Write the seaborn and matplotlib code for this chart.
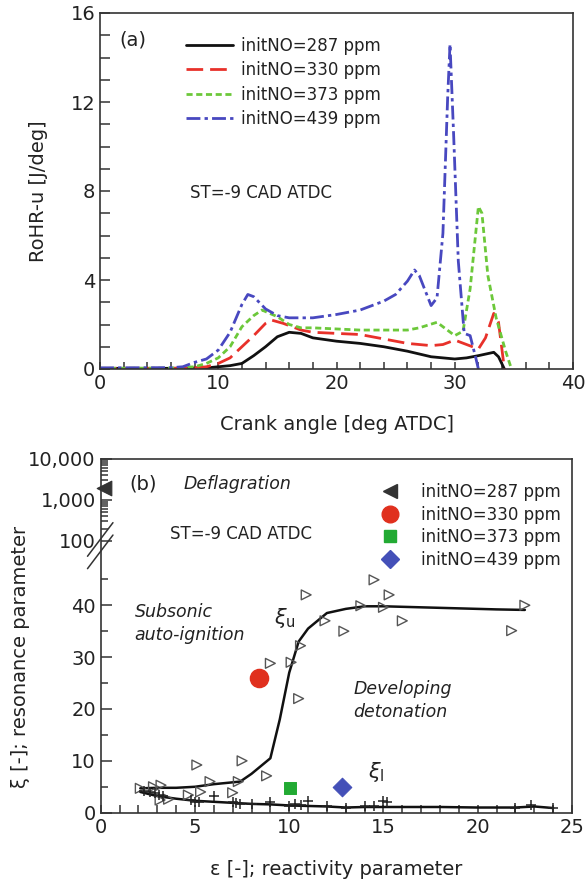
import numpy as np
import pandas as pd
import matplotlib
matplotlib.use("Agg")
import matplotlib.pyplot as plt
from matplotlib.lines import Line2D
import seaborn as sns

# ---------------- data: panel (a) ----------------
x287 = [0, 6, 9, 10, 11, 12, 13, 14, 15, 16, 17, 18, 20, 22, 24, 26, 28, 30, 31, 32, 33.3, 33.7, 34.2]
y287 = [0.03, 0.03, 0.05, 0.1, 0.15, 0.25, 0.6, 1.0, 1.45, 1.65, 1.6, 1.4, 1.25, 1.15, 1.0, 0.8, 0.55, 0.45, 0.5, 0.6, 0.75, 0.55, 0.0]

x330 = [0, 6, 8, 9, 10, 11, 12, 13, 14, 14.5, 15.5, 16, 17, 18, 20, 22, 24, 26, 28, 29, 30, 31, 32, 32.6, 33.3, 33.7, 34.2]
y330 = [0.03, 0.03, 0.05, 0.1, 0.25, 0.5, 1.0, 1.5, 2.05, 2.2, 2.05, 1.95, 1.75, 1.65, 1.6, 1.55, 1.35, 1.15, 1.05, 1.1, 1.3, 1.1, 0.9, 1.4, 2.5, 2.1, 0.0]

x373 = [0, 6, 8, 9, 10, 11, 12, 13, 13.7, 15, 16, 17, 18, 20, 22, 24, 26, 27, 28.5, 29, 30, 30.7, 31.3, 32, 32.3, 32.8, 33.5, 34.3, 34.8]
y373 = [0.03, 0.04, 0.1, 0.25, 0.5, 1.0, 1.9, 2.4, 2.65, 2.35, 2.0, 1.85, 1.85, 1.8, 1.75, 1.75, 1.75, 1.85, 2.1, 1.9, 1.5, 1.7, 3.6, 7.3, 7.0, 4.2, 2.3, 0.8, 0.0]

x439 = [0, 6, 7, 8, 9, 10, 11, 12, 12.5, 13, 14, 15, 16, 18, 20, 22, 24, 25, 26, 26.6, 27, 28, 28.5, 29, 29.4, 29.6, 29.9, 30.3, 30.8, 31.3, 31.8, 32.0]
y439 = [0.05, 0.06, 0.1, 0.3, 0.45, 0.85, 1.65, 2.9, 3.35, 3.25, 2.7, 2.4, 2.3, 2.3, 2.45, 2.65, 3.05, 3.35, 3.95, 4.45, 4.2, 2.85, 3.2, 6.1, 12.2, 14.6, 10.6, 4.85, 1.6, 1.5, 0.45, 0.0]

labels_a = ["initNO=287 ppm", "initNO=330 ppm", "initNO=373 ppm", "initNO=439 ppm"]
colors_a = ["#111111", "#e8312a", "#6cc83a", "#4848c0"]

# ---------------- data: panel (b) ----------------
tri_eps = [2.1, 2.8, 3.2, 3.15, 3.6, 4.65, 5.1, 5.3, 5.8, 7.0, 7.3, 7.5, 8.8, 9.0, 10.1, 10.5, 10.6,
           10.9, 11.9, 12.9, 13.8, 14.5, 15.0, 15.3, 16.0, 21.8, 22.5]
tri_xi = [4.7, 5.0, 5.3, 2.45, 2.6, 3.4, 9.2, 4.0, 6.0, 3.85, 6.0, 10.0, 7.1, 28.8, 29.0, 22.0, 32.2,
          42.0, 37.0, 35.0, 39.9, 44.9, 39.6, 42.0, 37.0, 35.1, 40.0]
xiu_eps = [2.1, 3.0, 4.0, 5.0, 6.0, 7.4, 8.0, 9.0, 9.5, 10.0, 10.5, 11.0, 12.0, 13.0, 14.0, 15.0, 17.0, 19.0, 21.0, 22.5]
xiu_val = [4.7, 4.8, 4.8, 5.0, 5.5, 6.0, 7.5, 10.5, 18.0, 27.0, 33.0, 35.5, 38.5, 39.3, 39.8, 39.8, 39.6, 39.4, 39.2, 39.1]
xil_eps = [2.1, 3.0, 4.0, 5.0, 6.0, 7.0, 8.0, 9.0, 10.0, 11.0, 12.0, 13.0, 14.0, 15.0, 18.0, 20.0, 22.0, 23.0, 24.0]
xil_val = [4.0, 3.2, 2.7, 2.3, 2.1, 1.9, 1.7, 1.6, 1.4, 1.3, 1.2, 1.0, 1.1, 1.1, 1.1, 1.0, 1.0, 1.2, 0.9]
plus_eps = [2.3, 2.6, 2.9, 3.1, 3.3, 4.8, 5.0, 5.2, 6.0, 7.0, 7.2, 7.4, 8.0, 9.0, 10.0, 10.3, 10.6, 11.0,
            12.0, 13.0, 14.0, 14.5, 15.0, 15.2, 22.0, 22.8, 24.0]
plus_xi = [4.2, 4.0, 3.8, 3.5, 3.3, 2.4, 2.0, 2.1, 3.2, 2.0, 1.8, 1.6, 1.7, 2.0, 1.3, 1.7, 1.5, 2.2,
           1.2, 1.0, 1.2, 1.3, 2.2, 2.1, 1.0, 1.5, 1.0]
case_labels = ["initNO=287 ppm", "initNO=330 ppm", "initNO=373 ppm", "initNO=439 ppm"]
case_eps = [0.2, 8.42, 10.04, 12.8]
case_xi = [2000, 26.0, 4.7, 4.9]
case_markers = ["<", "o", "s", "D"]
case_colors = ["#333333", "#e0301e", "#22aa33", "#4450b8"]
case_sizes = [110, 170, 75, 90]

# ---------------- style ----------------
sns.set_style("ticks")
plt.rcParams["font.family"] = ["DejaVu Sans"]
plt.rcParams["axes.linewidth"] = 1.2
plt.rcParams["axes.edgecolor"] = "#333333"

W, H = 587, 889
fig = plt.figure(figsize=(W / 100, H / 100), dpi=100)

def rect(l, t, r, b):
    return [l / W, 1 - b / H, (r - l) / W, (b - t) / H]

# ================= panel (a) =================
ax1 = fig.add_axes(rect(100, 13, 573, 369))
dfs = []
for xs, ys, lab in zip([x287, x330, x373, x439], [y287, y330, y373, y439], labels_a):
    dfs.append(pd.DataFrame({"ca": xs, "rohr": ys, "case": lab}))
dfa = pd.concat(dfs, ignore_index=True)
sns.lineplot(data=dfa, x="ca", y="rohr", hue="case", style="case",
             palette=dict(zip(labels_a, colors_a)),
             dashes={labels_a[0]: "", labels_a[1]: (6, 2.5), labels_a[2]: (2.2, 1.3),
                     labels_a[3]: (5, 1.5, 1.2, 1.5)},
             sort=False, estimator=None, linewidth=2.0, ax=ax1, legend=True)
ax1.set_xlim(0, 40)
ax1.set_ylim(0, 16)
ax1.set_xticks([0, 10, 20, 30, 40])
ax1.set_xticks(np.arange(0, 41, 2), minor=True)
ax1.set_yticks([0, 4, 8, 12, 16])
ax1.set_yticks(np.arange(0, 17, 1), minor=True)
ax1.tick_params(axis="both", which="both", direction="in", labelsize=14, colors="#333333",
                labelcolor="#222222", width=1.1)
ax1.tick_params(axis="y", which="both", length=7)
ax1.tick_params(axis="x", which="both", length=5)
ax1.set_xlabel("Crank angle [deg ATDC]", fontsize=14, color="#222222")
ax1.set_ylabel("RoHR-u [J/deg]", fontsize=14, color="#222222")
ax1.xaxis.set_label_coords(0.5, -0.13)
ax1.yaxis.set_label_coords(-0.11, 0.5)
for s in ax1.spines.values():
    s.set_visible(True)
leg1 = ax1.legend(loc="upper left", bbox_to_anchor=(0.15, 0.975), frameon=False,
                  fontsize=12, handlelength=2.8, handletextpad=0.5, labelspacing=0.38)
for t in leg1.get_texts():
    t.set_color("#222222")
ax1.text(0.042, 0.924, "(a)", transform=ax1.transAxes, fontsize=14, color="#222222", va="center")
ax1.text(0.19, 0.494, "ST=-9 CAD ATDC", transform=ax1.transAxes, fontsize=12, color="#222222",
         va="center")

# ================= panel (b) =================
ax2 = fig.add_axes(rect(100.7, 459, 572, 812.7))

LIN_TOP, MID, DEC = 50.0, 2.4, 7.9

def fwd(y):
    y = np.asarray(y, dtype=float)
    with np.errstate(divide="ignore", invalid="ignore"):
        lg = LIN_TOP + MID + DEC * np.log10(np.maximum(y, 1e-12) / 100.0)
    mid = LIN_TOP + (y - LIN_TOP) / 50.0 * MID
    return np.where(y <= LIN_TOP, y, np.where(y <= 100, mid, lg))

def inv(z):
    z = np.asarray(z, dtype=float)
    with np.errstate(over="ignore"):
        lg = 100.0 * 10 ** ((z - LIN_TOP - MID) / DEC)
    mid = LIN_TOP + (z - LIN_TOP) / MID * 50.0
    return np.where(z <= LIN_TOP, z, np.where(z <= LIN_TOP + MID, mid, lg))

ax2.set_yscale("function", functions=(fwd, inv))

dfu = pd.DataFrame({"eps": xiu_eps, "xi": xiu_val})
dfl = pd.DataFrame({"eps": xil_eps, "xi": xil_val})
dft = pd.DataFrame({"eps": tri_eps, "xi": tri_xi})
dfp = pd.DataFrame({"eps": plus_eps, "xi": plus_xi})
sns.lineplot(data=dfu, x="eps", y="xi", color="#111111", linewidth=1.8, sort=False,
             estimator=None, ax=ax2, legend=False)
sns.lineplot(data=dfl, x="eps", y="xi", color="#111111", linewidth=1.8, sort=False,
             estimator=None, ax=ax2, legend=False)
sns.scatterplot(data=dft, x="eps", y="xi", marker=">", s=50, facecolor="none",
                edgecolor="#555555", linewidth=1.0, ax=ax2, legend=False, zorder=3)
sns.scatterplot(data=dfp, x="eps", y="xi", marker="+", s=60, color="#222222",
                linewidth=1.1, ax=ax2, legend=False, zorder=3)
for lab, ex, xv, mk, col, sz in zip(case_labels, case_eps, case_xi, case_markers, case_colors, case_sizes):
    sns.scatterplot(x=[ex], y=[xv], marker=mk, s=sz, color=col, edgecolor=col, ax=ax2,
                    legend=False, zorder=4, clip_on=False)

ax2.set_xlim(0, 25)
ax2.set_ylim(0, 10000)
ax2.set_xticks([0, 5, 10, 15, 20, 25])
ax2.set_xticks(np.arange(0, 26, 1), minor=True)
ax2.set_yticks([0, 10, 20, 30, 40, 100, 1000, 10000])
ax2.set_yticklabels(["0", "10", "20", "30", "40", "100", "1,000", "10,000"])
minor_y = [5, 15, 25, 35, 45] + [m * 100 for m in range(2, 10)] + [m * 1000 for m in range(2, 10)]
ax2.set_yticks(minor_y, minor=True)
ax2.tick_params(axis="both", which="both", direction="in", labelsize=14, colors="#333333",
                labelcolor="#222222", width=1.1)
ax2.tick_params(axis="y", which="major", length=8)
ax2.tick_params(axis="y", which="minor", length=5)
ax2.tick_params(axis="x", which="both", length=6)
ax2.set_xlabel("ε [-]; reactivity parameter", fontsize=14, color="#222222")
ax2.set_ylabel("ξ [-]; resonance parameter", fontsize=14, color="#222222")
ax2.xaxis.set_label_coords(0.5, -0.135)
ax2.yaxis.set_label_coords(-0.15, 0.44)

# axis break marks
for dy in (0.0, 0.035):
    ax2.plot([-0.028, 0.026], [0.69 + dy, 0.785 + dy], transform=ax2.transAxes,
             color="#333333", lw=1.1, clip_on=False, zorder=5)

# legend for special cases
handles = [Line2D([], [], linestyle="none", marker=mk, color=col, markersize=ms)
           for mk, col, ms in zip(case_markers, case_colors, [10, 12, 8.5, 9])]
leg2 = ax2.legend(handles, case_labels, loc="upper left", bbox_to_anchor=(0.555, 0.975),
                  frameon=False, fontsize=12, handletextpad=1.1, labelspacing=0.28,
                  handlelength=1.5)
for t in leg2.get_texts():
    t.set_color("#222222")

# annotations
ax2.text(1.5, 2460, "(b)", fontsize=14, color="#222222", va="center")
ax2.text(4.4, 2460, "Deflagration", fontsize=12.5, style="italic", color="#222222", va="center")
ax2.text(3.7, 150, "ST=-9 CAD ATDC", fontsize=12, color="#222222", va="center")
ax2.text(1.8, 40.5, "Subsonic\nauto-ignition", fontsize=12.5, style="italic", color="#222222",
         va="top", linespacing=1.35)
ax2.text(13.4, 25.5, "Developing\ndetonation", fontsize=12.5, style="italic", color="#222222",
         va="top", linespacing=1.35)
ax2.text(9.2, 37.5, r"$\xi_{\mathrm{u}}$", fontsize=15, color="#222222", va="center")
ax2.text(14.2, 7.8, r"$\xi_{\mathrm{l}}$", fontsize=15, color="#222222", va="center")

fig.savefig("out.png", dpi=100)
